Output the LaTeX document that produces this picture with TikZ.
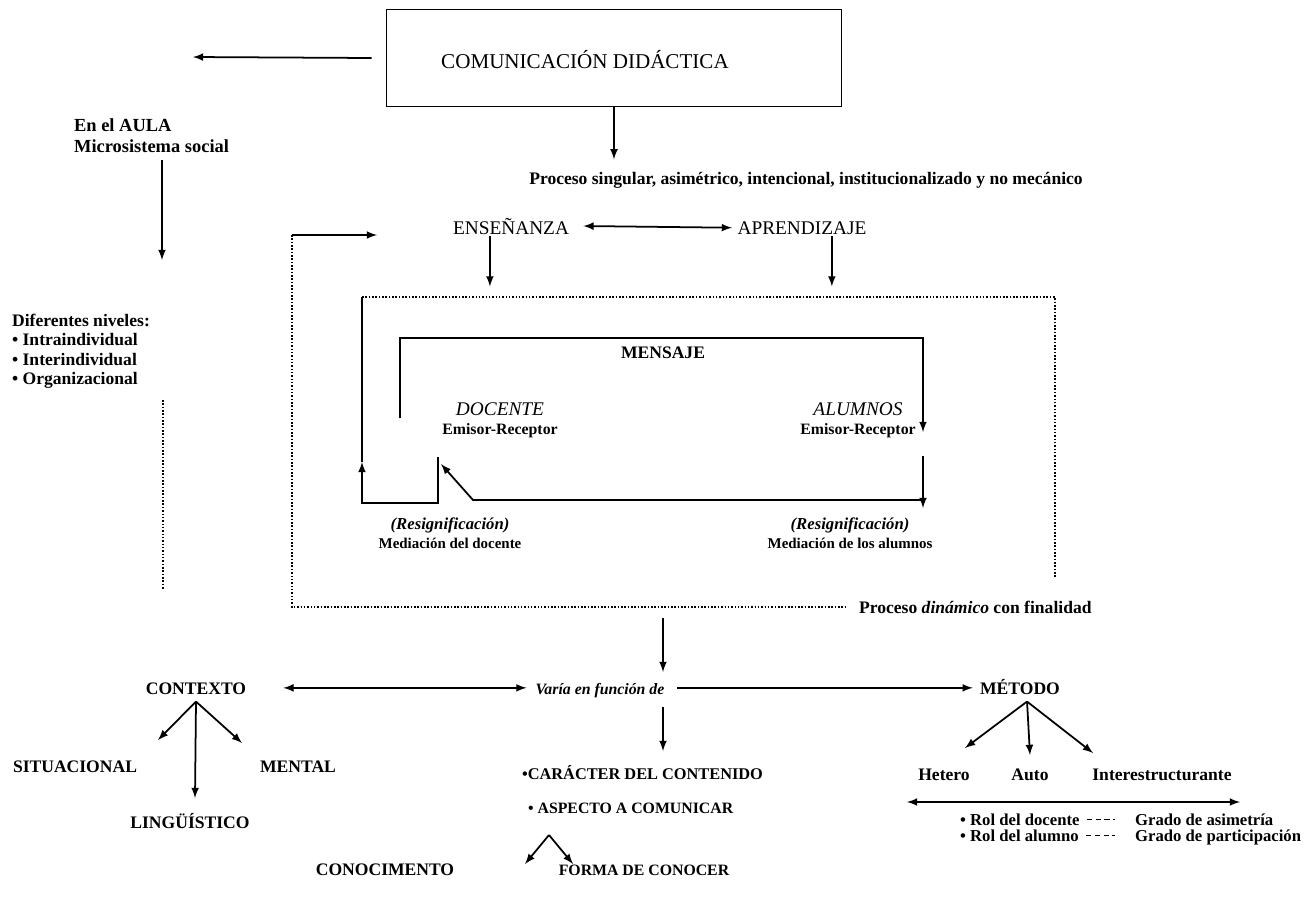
\documentclass[tikz,border=0pt]{standalone}
\usepackage{fontspec}
\setmainfont{Liberation Serif}
\usepackage{tikz}
\usetikzlibrary{arrows,positioning}

\begin{document}
\begin{tikzpicture}[
    x=0.02cm, y=-0.02cm, >=latex,
    box/.style={rectangle, draw, line width=1pt, minimum width=9.1cm, minimum height=1.94cm},
    ttl/.style={inner sep=1pt, font=\fontsize{11}{13}\selectfont},
    lbl/.style={inner sep=1pt, align=center, font=\fontsize{10}{11}\selectfont\bfseries},
    med/.style={inner sep=1pt, align=center, font=\fontsize{8.5}{10.5}\selectfont\bfseries},
    sml/.style={inner sep=1pt, font=\fontsize{9.5}{10.5}\selectfont\bfseries},
    arrow/.style={->, line width=1pt},
    dbl/.style={<->, line width=1pt},
    dots/.style={densely dotted, line width=0.9pt},
    rolline/.style={densely dashed, line width=0.6pt}
]
\useasboundingbox (0,0) rectangle (1315,897);

% upper part
\node[box] (com) at (614,58) {};
\node[ttl, font=\fontsize{12}{14}\selectfont] (comtxt) at (585,60) {COMUNICACIÓN DIDÁCTICA};
\node[lbl, align=left, anchor=west, font=\fontsize{10.5}{12}\selectfont\bfseries] (aula) at (72,136) {En el AULA\\Microsistema social};
\node[lbl] (proc) at (806,180) {Proceso singular, asimétrico, intencional, institucionalizado y no mecánico};
\node[ttl, anchor=base] (ens) at (511,234) {ENSEÑANZA};
\node[ttl, anchor=base] (apr) at (802,234) {APRENDIZAJE};
\node[lbl, align=left, anchor=north west] (niv) at (10,312) {Diferentes niveles:\\• Intraindividual\\• Interindividual\\• Organizacional};

\coordinate (aulaL) at (193,57);
\coordinate (aulaD) at (162,260);
\coordinate (d1) at (163,400);
\coordinate (d2) at (163,590);
\draw[arrow] ([xshift=-8pt]com.west) -- (aulaL);
\draw[arrow] ([yshift=-3pt]aula.south -| aulaD) -- (aulaD);
\draw[dots] (d1) -- (d2);
\draw[arrow] (com.south) -- ([yshift=6pt]com.south |- proc.north);
\draw[dbl] ([xshift=7pt]ens.east) -- ([xshift=-2pt]apr.west);

% dotted frame
\coordinate (frTL) at (362,297);
\coordinate (frTR) at (1055,297);
\coordinate (frBR) at (1055,578);
\draw[dots] (frTL) -- (frTR) -- (frBR);
\draw[arrow, shorten >=6pt] ([xshift=-12pt]ens.south) -- ([xshift=-12pt]ens.south |- frTL);
\draw[arrow, shorten >=6pt] ([xshift=17pt]apr.south) -- ([xshift=17pt]apr.south |- frTL);

% mensaje loop
\node[lbl] (msg) at (663,353) {MENSAJE};
\node[lbl] (doc) at (500,420) {{\fontsize{11}{13}\selectfont\mdseries\itshape DOCENTE}\\{\fontsize{9}{10}\selectfont Emisor-Receptor}};
\node[lbl] (alu) at (858,420) {{\fontsize{11}{13}\selectfont\mdseries\itshape ALUMNOS}\\{\fontsize{9}{10}\selectfont Emisor-Receptor}};
\coordinate (m1) at (400,418);
\coordinate (m2) at (400,338);
\coordinate (m3) at (923,338);
\coordinate (m4) at (923,432);
\coordinate (m5) at (923,456);
\coordinate (m6) at (923,508);
\coordinate (m7) at (923,500);
\coordinate (m8) at (473,500);
\coordinate (m9) at (441,464);
\draw[arrow] (m1) -- (m2) -- (m3) -- (m4);
\draw[arrow] (m5) -- (m6);
\draw[arrow] (m7) -- (m8) -- (m9);

\coordinate (l1) at (438,457);
\coordinate (l2) at (438,503);
\coordinate (l3) at (362,503);
\coordinate (l4) at (362,462);
\draw[arrow] (l1) -- (l2) -- (l3) -- (l4);
\draw[line width=1pt] (l4) -- (frTL);

\node[med] (medd) at (450,533) {{\fontsize{9.5}{10.5}\selectfont\itshape (Resignificación)}\\Mediación del docente};
\node[med] (meda) at (850,533) {{\fontsize{9.5}{10.5}\selectfont\itshape (Resignificación)}\\Mediación de los alumnos};

% outer dotted path
\coordinate (fb0) at (377,235);
\coordinate (fb1) at (292,235);
\coordinate (fb2) at (292,607);
\node[lbl, anchor=west] (dyn) at (857,607) {Proceso \textit{dinámico} con finalidad};
\draw[dots] (fb1) -- (fb2) -- ([xshift=-6pt]dyn.west);
\draw[arrow] (fb1) -- (fb0);

% lower part
\node[lbl, anchor=base, font=\fontsize{9}{10}\selectfont\bfseries\itshape] (var) at (600,694) {Varía en función de};
\node[lbl, anchor=base] (ctx) at (196,694) {CONTEXTO};
\node[lbl, anchor=base] (met) at (1020,694) {MÉTODO};
\coordinate (v0) at (663,618);
\coordinate (v1) at (663,672);
\coordinate (v2) at (663,707);
\coordinate (v3) at (663,751);
\draw[arrow] (v0) -- (v1);
\draw[arrow] (v2) -- (v3);
\draw[dbl, shorten <=20pt, shorten >=4pt] ([yshift=3.5pt]ctx.base east) -- ([yshift=3.5pt]var.base west);
\draw[arrow, shorten <=6pt, shorten >=3pt] ([yshift=3.5pt]var.base east) -- ([yshift=3.5pt]met.base west);

\node[lbl] (sit) at (75,767) {SITUACIONAL};
\node[lbl] (men) at (298,767) {MENTAL};
\node[lbl] (lin) at (190,821) {LINGÜÍSTICO};
\coordinate (c1) at (158,740);
\coordinate (c2) at (195,798);
\coordinate (c3) at (242,743);
\draw[arrow] ([yshift=-3pt]ctx.south) -- (c1);
\draw[arrow] ([yshift=-3pt]ctx.south) -- (c2);
\draw[arrow] ([yshift=-3pt]ctx.south) -- (c3);

\node[lbl, anchor=west, font=\fontsize{9.3}{11}\selectfont\bfseries] (car) at (520,773) {•CARÁCTER DEL CONTENIDO};
\node[lbl, anchor=west, font=\fontsize{9}{11}\selectfont\bfseries] (asp) at (526,808) {• ASPECTO A COMUNICAR};
\node[lbl] (cono) at (385,870) {CONOCIMENTO};
\node[lbl, font=\fontsize{9}{10}\selectfont\bfseries] (forma) at (644,870) {FORMA DE CONOCER};
\coordinate (a0) at (549,835);
\coordinate (a1) at (525,864);
\coordinate (a2) at (573,864);
\draw[arrow] (a0) -- (a1);
\draw[arrow] (a0) -- (a2);

\node[lbl] (het) at (944,775) {Hetero};
\node[lbl] (aut) at (1030,775) {Auto};
\node[lbl] (int) at (1162,775) {Interestructurante};
\coordinate (t1) at (965,748);
\coordinate (t2) at (1030,755);
\coordinate (t3) at (1093,753);
\draw[arrow] ([xshift=4pt, yshift=-3pt]met.south) -- (t1);
\draw[arrow] ([xshift=4pt, yshift=-3pt]met.south) -- (t2);
\draw[arrow] ([xshift=4pt, yshift=-3pt]met.south) -- (t3);

\coordinate (r1) at (907,802);
\coordinate (r2) at (1240,802);
\draw[dbl] (r1) -- (r2);
\node[sml, anchor=base west] (rdoc) at (958,825) {• Rol del docente};
\node[sml, anchor=base west] (gasi) at (1133,825) {Grado de asimetría};
\node[sml, anchor=base west] (ralu) at (958,841) {• Rol del alumno};
\node[sml, anchor=base west] (gpar) at (1133,841) {Grado de participación};
\draw[rolline, shorten <=3pt, shorten >=10pt] ([yshift=3pt]rdoc.base east) -- ([yshift=3pt]gasi.base west);
\draw[rolline, shorten <=3pt, shorten >=10pt] ([yshift=3pt]ralu.base east) -- ([yshift=3pt]gpar.base west);
\end{tikzpicture}
\end{document}
